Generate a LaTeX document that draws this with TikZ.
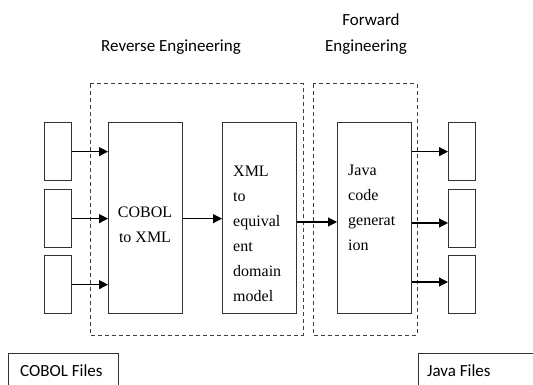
\documentclass[tikz,border=0pt]{standalone}
\usepackage{fontspec}
\setmainfont{Liberation Serif}
\newfontfamily\labelfont{Carlito}
\usetikzlibrary{arrows.meta}
\begin{document}
\begin{tikzpicture}[x=1pt,y=-1pt,
  box/.style={draw=black!80, line width=1.3pt, rectangle, inner sep=0pt, anchor=north west},
  dbox/.style={draw=black!75, dash pattern=on 4pt off 3pt, line width=1pt},
  arr/.style={-{Triangle[length=9pt,width=9pt]}, line width=1.1pt},
  inner/.style={font=\fontsize{16}{25}\selectfont, inner sep=0pt},
  lab/.style={font=\labelfont\fontsize{17}{26}\selectfont, inner sep=0pt},
]
\useasboundingbox (0,0) rectangle (533,385);
\begin{scope}
\clip (0,0) rectangle (533,385);
% dashed groups
\draw[dbox] (90,84) rectangle (303,335);
\draw[dbox] (313,84) rectangle (417,335);
% input boxes
\node[box, minimum width=27pt, minimum height=58pt] (i1) at (44,122) {};
\node[box, minimum width=27pt, minimum height=58pt] (i2) at (44,189) {};
\node[box, minimum width=27pt, minimum height=58pt] (i3) at (44,255) {};
% processing boxes
\node[box, minimum width=74pt, minimum height=191pt] (cob) at (108,122) {};
\node[box, minimum width=74pt, minimum height=191pt] (xml) at (222,122) {};
\node[box, minimum width=74pt, minimum height=191pt] (java) at (337,122) {};
% output boxes
\node[box, minimum width=27pt, minimum height=58pt] (o1) at (448,122) {};
\node[box, minimum width=27pt, minimum height=58pt] (o2) at (448,189) {};
\node[box, minimum width=27pt, minimum height=58pt] (o3) at (448,255) {};
% file boxes
\node[box, minimum width=110pt, minimum height=50pt] (cf) at (8,353) {};
\node[box, minimum width=130pt, minimum height=50pt] (jf) at (418,353) {};
\end{scope}
% arrows
\draw[arr] (i1.east) -- (cob.west |- i1.east);
\draw[arr] (i2.east) -- (cob.west |- i2.east);
\draw[arr] (i3.east) -- (cob.west |- i3.east);
\draw[arr] (cob.east |- i2.east) -- (xml.west |- i2.east);
\coordinate (m) at (0,222);
\draw[arr] (xml.east |- m) -- (java.west |- m);
\draw[arr] (java.east |- i1.east) -- (o1.west |- i1.east);
\coordinate (m2) at (0,223);
\draw[arr] (java.east |- m2) -- (o2.west |- m2);
\coordinate (m3) at (0,282);
\draw[arr] (java.east |- m3) -- (o3.west |- m3);
% texts (base anchor = last line's baseline)
\node[inner, align=center, anchor=base] (tcob) at (145,242) {COBOL\\to XML};
\node[inner, align=left, anchor=base west] (txml) at (233,301) {XML\\to\\equival\\ent\\domain\\model};
\node[inner, align=left, anchor=base west] (tjava) at (348,250) {Java\\code\\generat\\ion};
\node[lab, anchor=base] (re) at (171,52) {Reverse Engineering};
\node[lab, anchor=base] (fe1) at (371,26) {Forward};
\node[lab, anchor=base] (fe2) at (366,52) {Engineering};
\node[lab, anchor=base west] (cft) at (20,376) {COBOL Files};
\node[lab, anchor=base west] (jft) at (427,376) {Java Files};
\end{tikzpicture}
\end{document}
